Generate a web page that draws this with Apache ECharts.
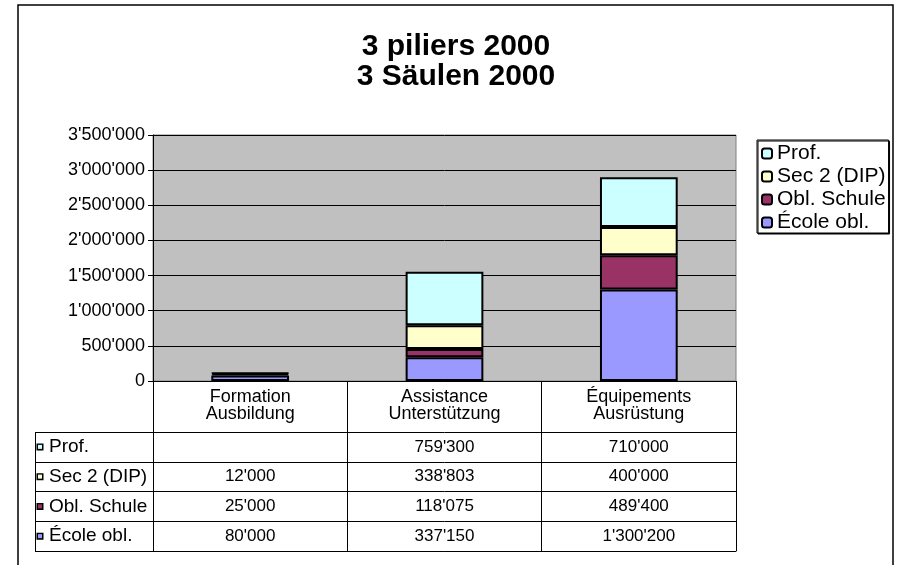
<!DOCTYPE html>
<html>
<head>
<meta charset="utf-8">
<script src="https://cdn.jsdelivr.net/npm/echarts@6/dist/echarts.min.js"></script>
<style>
html, body { margin: 0; padding: 0; background: #fff; }
#main { width: 899px; height: 565px; }
</style>
</head>
<body>
<div id="main"></div>
<script>
// categories and values (table below the chart shows the same numbers)
var categories = ['Formation\nAusbildung', 'Assistance\nUnterstützung', 'Équipements\nAusrüstung']
var rowNames = ['Prof.', 'Sec 2 (DIP)', 'Obl. Schule', 'École obl.']
var ecoleObl = [80000, 337150, 1300200]
var oblSchule = [25000, 118075, 489400]
var sec2 = [12000, 338803, 400000]
var prof = [null, 759300, 710000]
var colors = { 'Prof.': '#CCFFFF', 'Sec 2 (DIP)': '#FFFFCC', 'Obl. Schule': '#993366', 'École obl.': '#9999FF' }

var FONT = 'Liberation Sans, Arial, sans-serif'

function fmt (v) {
  return String(Math.round(v)).replace(/\B(?=(\d{3})+(?!\d))/g, "'")
}

var seriesValues = { 'Prof.': prof, 'Sec 2 (DIP)': sec2, 'Obl. Schule': oblSchule, 'École obl.': ecoleObl }

// stacked bars, bottom first
var barOrder = ['École obl.', 'Obl. Schule', 'Sec 2 (DIP)', 'Prof.']
var series = barOrder.map(function (name) {
  return {
    name: name,
    type: 'bar',
    stack: 'total',
    xAxisIndex: 0,
    yAxisIndex: 0,
    barWidth: '40%',
    itemStyle: { color: colors[name], borderColor: '#000', borderWidth: 2 },
    data: seriesValues[name]
  }
})

// cells of the data table
var cells = []
rowNames.forEach(function (name, r) {
  seriesValues[name].forEach(function (v, c) {
    if (v !== null) cells.push([c, r, v])
  })
})
series.push({
  type: 'scatter',
  xAxisIndex: 1,
  yAxisIndex: 1,
  symbolSize: 0,
  silent: true,
  itemStyle: { opacity: 1 },
  label: {
    show: true,
    position: 'inside',
    color: '#000',
    opacity: 1,
    fontFamily: FONT,
    fontSize: 17,
    formatter: function (p) { return fmt(p.value[2]) }
  },
  data: cells
})

var rich = {}
rowNames.forEach(function (name, i) {
  rich['m' + i] = { width: 4, height: 4, backgroundColor: colors[name], borderColor: '#000', borderWidth: 1.5 }
})
rich.t = { fontFamily: FONT, fontSize: 19, color: '#000', padding: [0, 0, 0, 7] }

var chart = echarts.init(document.getElementById('main'))
chart.setOption({
  animation: false,
  textStyle: { fontFamily: FONT },
  title: {
    text: '3 piliers 2000\n3 Säulen 2000',
    left: 451,
    top: 27,
    textAlign: 'center',
    textStyle: { fontFamily: FONT, fontSize: 30, fontWeight: 'bold', color: '#000', lineHeight: 30 }
  },
  legend: {
    orient: 'vertical',
    left: 757,
    top: 140,
    data: ['Prof.', 'Sec 2 (DIP)', 'Obl. Schule', 'École obl.'],
    itemWidth: 10,
    itemHeight: 10,
    itemGap: 2,
    padding: [3, 3, 0, 4],
    backgroundColor: '#fff',
    borderColor: '#000',
    borderWidth: 1,
    shadowColor: '#000',
    shadowOffsetX: 1,
    shadowOffsetY: 1,
    shadowBlur: 0,
    textStyle: { fontFamily: FONT, fontSize: 21, color: '#000' }
  },
  grid: [
    { left: 153, right: 163, top: 135, bottom: 184, show: true, backgroundColor: '#C0C0C0', borderColor: '#808080', borderWidth: 1 },
    { left: 153, right: 163, top: 432, bottom: 14 }
  ],
  xAxis: [
    {
      type: 'category',
      gridIndex: 0,
      data: categories,
      axisLine: { lineStyle: { color: '#000', width: 1 } },
      axisTick: { show: true, length: 51, interval: 0, lineStyle: { color: '#000' } },
      axisLabel: { color: '#000', fontFamily: FONT, fontSize: 18, lineHeight: 17, margin: 8, interval: 0 }
    },
    {
      type: 'category',
      gridIndex: 1,
      data: categories,
      axisLine: { lineStyle: { color: '#000', width: 1 } },
      axisTick: { show: false },
      axisLabel: { show: false },
      splitLine: { show: true, interval: 0, lineStyle: { color: '#000', width: 1 } }
    }
  ],
  yAxis: [
    {
      type: 'value',
      gridIndex: 0,
      min: 0,
      max: 3500000,
      interval: 500000,
      axisLine: { show: true, lineStyle: { color: '#000', width: 1 } },
      axisTick: { show: true, length: 5, lineStyle: { color: '#000' } },
      axisLabel: { color: '#000', fontFamily: FONT, fontSize: 18, margin: 8, formatter: fmt },
      splitLine: { show: true, lineStyle: { color: '#000', width: 1 } }
    },
    {
      type: 'category',
      gridIndex: 1,
      inverse: true,
      data: rowNames,
      axisLine: { show: false },
      axisTick: { show: true, length: 118, interval: 0, lineStyle: { color: '#000' } },
      axisLabel: {
        align: 'left',
        margin: 115,
        interval: 0,
        formatter: function (v, i) { return '{m' + i + '|}{t|' + v + '}' },
        rich: rich
      },
      splitLine: { show: true, interval: 0, lineStyle: { color: '#000', width: 1 } }
    }
  ],
  graphic: [
    { type: 'rect', shape: { x: 18, y: 5, width: 875, height: 580 }, style: { fill: 'none', stroke: '#000', lineWidth: 1.5 }, silent: true },
    { type: 'line', shape: { x1: 35.5, y1: 432, x2: 35.5, y2: 551 }, style: { stroke: '#000', lineWidth: 1 }, silent: true }
  ],
  series: series
})
</script>
</body>
</html>
